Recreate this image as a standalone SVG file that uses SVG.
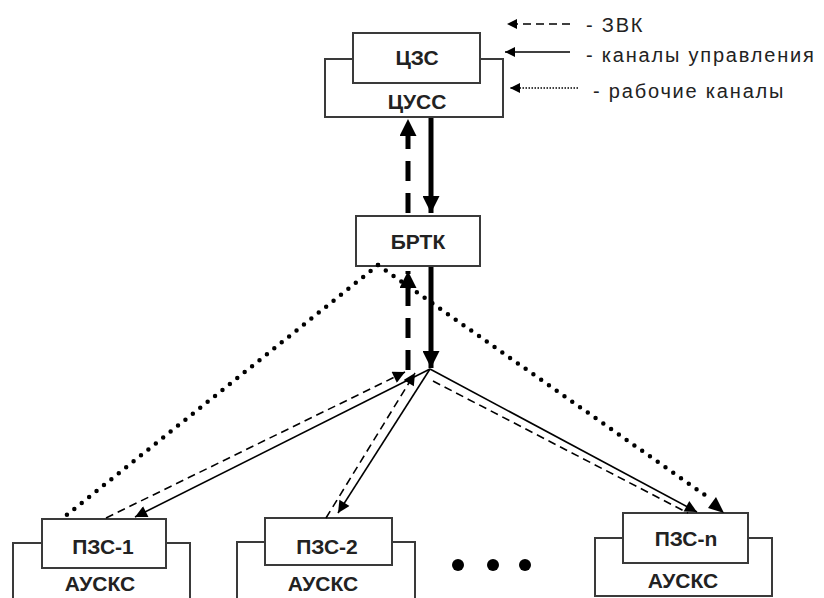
<svg xmlns="http://www.w3.org/2000/svg" width="824" height="598" viewBox="0 0 824 598">
<defs>
<marker id="big" viewBox="0 0 10 10" refX="10" refY="5" markerWidth="3.6" markerHeight="3.4" markerUnits="strokeWidth" orient="auto"><path d="M0,0 L10,5 L0,10 z" fill="#000"/></marker>
<marker id="mid" viewBox="0 0 10 10" refX="10" refY="5" markerWidth="11" markerHeight="10" markerUnits="userSpaceOnUse" orient="auto"><path d="M0,0 L10,5 L0,10 z" fill="#000"/></marker>
<marker id="sm" viewBox="0 0 10 10" refX="10" refY="5" markerWidth="14" markerHeight="12" markerUnits="userSpaceOnUse" orient="auto"><path d="M0,0 L10,5 L0,10 z" fill="#000"/></marker>
</defs>
<style>
.box{fill:#fff;stroke:#3a3a3a;stroke-width:2}
.lbl{font-family:"Liberation Sans",Arial,sans-serif;font-weight:bold;font-size:21px;fill:#222;text-anchor:middle}
.leg{font-family:"Liberation Sans",Arial,sans-serif;font-size:20px;letter-spacing:1.8px;fill:#222}
.thick{stroke:#000;stroke-width:5;fill:none}
.thin{stroke:#000;stroke-width:1.6;fill:none}
.dot{stroke:#000;stroke-width:4.5;fill:none;stroke-linecap:round;stroke-dasharray:0 9.5}
</style>
<rect width="824" height="598" fill="#fff"/>

<g id="legend">
<line x1="570" y1="24" x2="507" y2="24" class="thin" stroke-width="2" stroke-dasharray="8 5" marker-end="url(#mid)"/>
<line x1="570" y1="52" x2="505" y2="52" class="thin" stroke-width="2.5" marker-end="url(#mid)"/>
<line x1="578" y1="88" x2="510" y2="88" stroke="#000" stroke-width="1.5" stroke-dasharray="1.5 1.5" marker-end="url(#mid)"/>
<text class="leg" x="586" y="32">- ЗВК</text>
<text class="leg" x="586" y="62">- каналы управления</text>
<text class="leg" x="593" y="98">- рабочие каналы</text>
</g>

<g id="cuss">
<rect class="box" x="325" y="59" width="178" height="58"/>
<rect class="box" x="353" y="33" width="127" height="50"/>
<text class="lbl" x="417" y="65">ЦЗС</text>
<text class="lbl" x="417" y="109">ЦУСС</text>
</g>

<g id="brtk">
<rect class="box" x="356" y="216" width="124" height="50"/>
<text class="lbl" x="418" y="249">БРТК</text>
</g>

<g id="pzs1">
<rect class="box" x="13" y="543" width="177" height="70"/>
<rect class="box" x="42" y="519" width="124" height="49"/>
<text class="lbl" x="103" y="554">ПЗС-1</text>
<text class="lbl" x="100" y="591">АУСКС</text>
</g>

<g id="pzs2">
<rect class="box" x="237" y="542" width="178" height="70"/>
<rect class="box" x="265" y="518" width="127" height="47"/>
<text class="lbl" x="327" y="554">ПЗС-2</text>
<text class="lbl" x="323" y="591">АУСКС</text>
</g>

<g id="pzsn">
<rect class="box" x="595" y="538" width="177" height="58"/>
<rect class="box" x="623" y="513" width="125" height="50"/>
<text class="lbl" x="686" y="546">ПЗС-n</text>
<text class="lbl" x="683" y="588">АУСКС</text>
</g>

<g id="ellipsis" fill="#000">
<circle cx="458" cy="565" r="6"/>
<circle cx="493" cy="565" r="6"/>
<circle cx="525" cy="565" r="6"/>
</g>

<g id="connectors">
<line class="thick" x1="408" y1="213" x2="408" y2="119" stroke-dasharray="20 12" marker-end="url(#big)"/>
<line class="thick" x1="431" y1="118" x2="431" y2="213" marker-end="url(#big)"/>
<line class="thick" x1="408" y1="370" x2="408" y2="271" stroke-dasharray="20 12" marker-end="url(#big)"/>
<line class="thick" x1="431" y1="267" x2="431" y2="368" marker-end="url(#big)"/>

<line class="thin" x1="430" y1="369" x2="135" y2="517" marker-end="url(#sm)"/>
<line class="thin" x1="106" y1="518" x2="405" y2="372" stroke-dasharray="8 5" marker-end="url(#sm)"/>
<line class="thin" x1="430" y1="369" x2="338" y2="513" marker-end="url(#sm)"/>
<line class="thin" x1="326" y1="518" x2="415" y2="373" stroke-dasharray="8 5" marker-end="url(#sm)"/>
<line class="thin" x1="430" y1="369" x2="697" y2="512" marker-end="url(#sm)"/>
<line class="thin" x1="433" y1="381" x2="688" y2="513" stroke-dasharray="8 5"/>

<line class="dot" x1="378" y1="265" x2="63" y2="518"/>
<line class="dot" x1="378" y1="265" x2="712" y2="500"/>
<path d="M708,508 L724,513 L716,497 z" fill="#000"/>
</g>
</svg>
